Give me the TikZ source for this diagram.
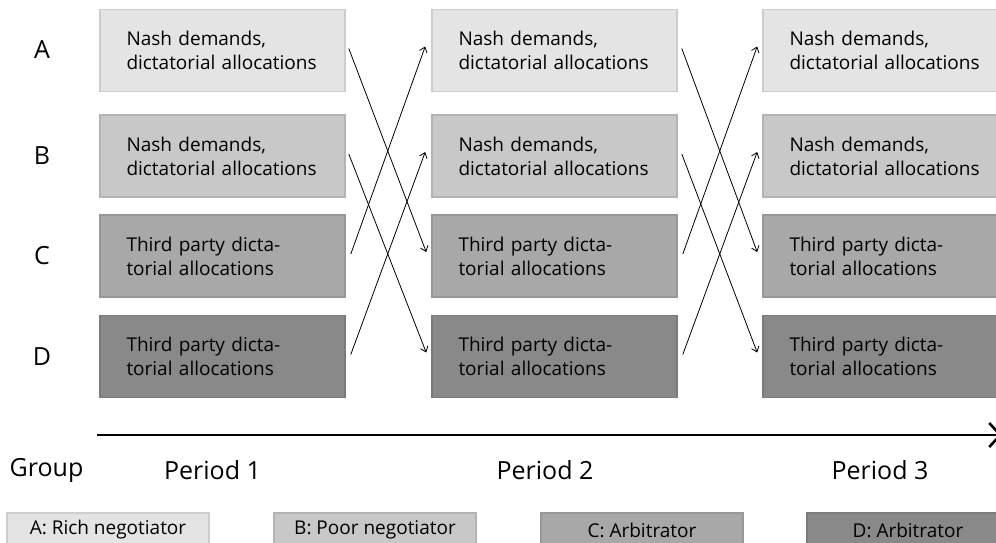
\documentclass[tikz,border=0pt]{standalone}
\usepackage{fontspec}
\setmainfont{Open Sans}
\usepackage{xcolor}
\usepackage{tikz}
\usetikzlibrary{arrows.meta}

\definecolor{grpA}{RGB}{228,228,228}
\definecolor{grpB}{RGB}{200,200,200}
\definecolor{grpC}{RGB}{168,168,168}
\definecolor{grpD}{RGB}{137,137,137}

\begin{document}
\begin{tikzpicture}[x=1pt,y=-1pt,
  box/.style={draw,line width=1.6pt,minimum width=245pt,minimum height=82pt,text width=192pt,align=left,inner xsep=0pt,font=\fontsize{19}{24}\selectfont},
  boxA/.style={box,fill=grpA,draw=grpA!90!black},
  boxB/.style={box,fill=grpB,draw=grpB!90!black},
  boxC/.style={box,fill=grpC,draw=grpC!90!black},
  boxD/.style={box,fill=grpD,draw=grpD!90!black},
  key/.style={draw,line width=1.6pt,minimum width=202pt,minimum height=34pt,inner sep=0pt,font=\fontsize{19}{22}\selectfont},
  lbl/.style={font=\fontsize{25}{28}\selectfont},
  swap/.style={-{Straight Barb[length=5pt,width=8pt]},line width=0.8pt}]
\useasboundingbox (0,0) rectangle (996,542);

\node[lbl](gA) at(42,50){A};
\node[lbl](gB) at(42,156){B};
\node[lbl](gC) at(42,256){C};
\node[lbl](gD) at(42,357){D};

\node[boxA](a1) at(222.5,50.5){Nash demands,\\dictatorial allocations};
\node[boxB](b1) at(222.5,156){Nash demands,\\dictatorial allocations};
\node[boxC](c1) at(222.5,256){Third party dicta-\\torial allocations};
\node[boxD](d1) at(222.5,356.5){Third party dicta-\\torial allocations};

\node[boxA](a2) at(554.5,50.5){Nash demands,\\dictatorial allocations};
\node[boxB](b2) at(554.5,156){Nash demands,\\dictatorial allocations};
\node[boxC](c2) at(554.5,256){Third party dicta-\\torial allocations};
\node[boxD](d2) at(554.5,356.5){Third party dicta-\\torial allocations};

\node[boxA](a3) at(885.5,50.5){Nash demands,\\dictatorial allocations};
\node[boxB](b3) at(885.5,156){Nash demands,\\dictatorial allocations};
\node[boxC](c3) at(885.5,256){Third party dicta-\\torial allocations};
\node[boxD](d3) at(885.5,356.5){Third party dicta-\\torial allocations};

\draw[swap]([xshift=3pt,yshift=2pt]a1.east)--([xshift=-5pt,yshift=4pt]c2.west);
\draw[swap]([xshift=3pt,yshift=2pt]b1.east)--([xshift=-5pt,yshift=4pt]d2.west);
\draw[swap]([xshift=5pt,yshift=2pt]c1.east)--([xshift=-6pt,yshift=4pt]a2.west);
\draw[swap]([xshift=5pt,yshift=2pt]d1.east)--([xshift=-6pt,yshift=4pt]b2.west);

\draw[swap]([xshift=4pt,yshift=2pt]a2.east)--([xshift=-5pt,yshift=4pt]c3.west);
\draw[swap]([xshift=4pt,yshift=2pt]b2.east)--([xshift=-5pt,yshift=4pt]d3.west);
\draw[swap]([xshift=5pt,yshift=2pt]c2.east)--([xshift=-5pt,yshift=4pt]a3.west);
\draw[swap]([xshift=5pt,yshift=2pt]d2.east)--([xshift=-5pt,yshift=4pt]b3.west);

\coordinate (t0) at(97,435);
\coordinate (t1) at(1002,435);
\draw[line width=2.6pt,-{Straight Barb[length=11pt,width=24pt]}](t0)--(t1);

\node[lbl](grp) at(46.5,470){Group};
\node[lbl](p1) at(212.5,470){Period 1};
\node[lbl](p2) at(545,470){Period 2};
\node[lbl](p3) at(880,470){Period 3};

\node[key,fill=grpA,draw=grpA!90!black](kA) at(108,530){A: Rich negotiator};
\node[key,fill=grpB,draw=grpB!90!black](kB) at(375,530){B: Poor negotiator};
\node[key,fill=grpC,draw=grpC!90!black](kC) at(642,530){C: Arbitrator};
\node[key,fill=grpD,draw=grpD!90!black](kD) at(908,530){D: Arbitrator};

\end{tikzpicture}
\end{document}
